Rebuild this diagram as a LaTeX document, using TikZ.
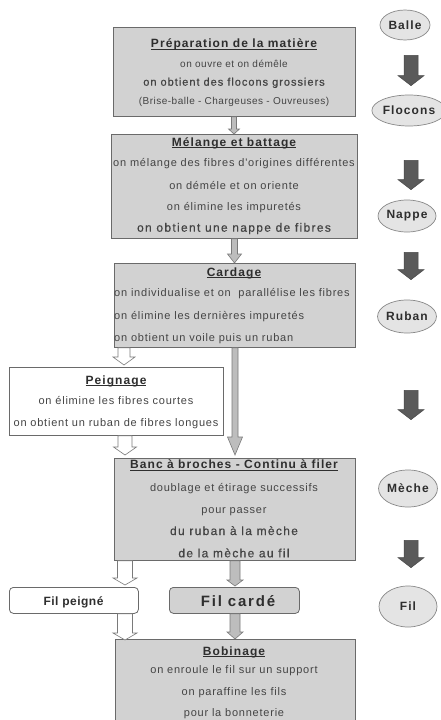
\documentclass[tikz,border=0pt]{standalone}
\usepackage{fontspec}
\setmainfont{Liberation Sans}
\newfontfamily\bodyf[LetterSpace=7]{Liberation Sans}
\newfontfamily\smallf[LetterSpace=5]{Liberation Sans}
\newfontfamily\titlef[LetterSpace=9]{Liberation Sans}
\newfontfamily\widef[LetterSpace=11,FakeBold=0.5]{Liberation Sans}
\usetikzlibrary{calc,shapes.geometric}
\definecolor{boxfill}{HTML}{D2D2D2}
\definecolor{boxline}{HTML}{6A6A6A}
\definecolor{txtcol}{HTML}{444444}
\definecolor{ttlcol}{HTML}{2E2E2E}
\definecolor{ellfill}{HTML}{E4E4E4}
\definecolor{ellline}{HTML}{888888}
\definecolor{darkarr}{HTML}{5A5A5A}
\definecolor{grayarr}{HTML}{BDBDBD}
\definecolor{arrline}{HTML}{7A7A7A}
\newcommand\ulin[1]{\setbox0=\hbox{#1}\rlap{\raisebox{-2.4pt}{\rule{\wd0}{1.1pt}}}\box0}
\newcommand\blk[6]{%
  \path[#1] let \p1=#2, \p2=#3 in
  (\x1-#4pt,\y1) -- (\x1-#4pt,\y2+#6pt) -- (\x1-#5pt,\y2+#6pt) -- (\x1,\y2)
  -- (\x1+#5pt,\y2+#6pt) -- (\x1+#4pt,\y2+#6pt) -- (\x1+#4pt,\y1) -- cycle;}
\begin{document}
\begin{tikzpicture}[x=1pt,y=-1pt,
  mainbox/.style={draw=boxline,fill=boxfill,line width=0.8pt,anchor=north west,inner sep=0},
  whitebox/.style={draw=boxline,fill=white,line width=0.8pt,anchor=north west,inner sep=0},
  ell/.style={ellipse,draw=ellline,fill=ellfill,line width=0.7pt,inner sep=0,
    text=ttlcol,font=\titlef\bfseries\fontsize{12}{14}\selectfont},
  ttl/.style={anchor=base,inner sep=0,text=ttlcol,font=\titlef\bfseries\fontsize{12}{14}\selectfont},
  bodytxt/.style={anchor=base,inner sep=0,text=txtcol,font=\bodyf\fontsize{11}{13}\selectfont},
  smalltxt/.style={anchor=base,inner sep=0,text=txtcol,font=\smallf\fontsize{10}{12}\selectfont},
  widetxt/.style={anchor=base,inner sep=0,text=txtcol,font=\widef\fontsize{12}{14}\selectfont},
  darkarrow/.style={fill=darkarr,draw=darkarr!80!black,line width=0.5pt},
  grayarrow/.style={fill=grayarr,draw=arrline,line width=0.6pt},
  hollow/.style={fill=white,draw=arrline,line width=0.6pt}]
\useasboundingbox (0,0) rectangle (441,720);
\fill[white] (0,0) rectangle (441,720);

% main boxes
\node[mainbox,minimum width=242pt,minimum height=89pt] (b1) at (113,27) {};
\node[mainbox,minimum width=246pt,minimum height=104pt] (b2) at (111,134) {};
\node[mainbox,minimum width=241pt,minimum height=84pt] (b3) at (114,263) {};
\node[whitebox,minimum width=214pt,minimum height=68pt] (peig) at (9,367) {};
\node[mainbox,minimum width=241pt,minimum height=102pt] (banc) at (114,458) {};
\node[whitebox,rounded corners=4pt,minimum width=129pt,minimum height=26pt] (filp) at (9,587) {};
\node[mainbox,rounded corners=4pt,minimum width=130pt,minimum height=26pt] (filc) at (169,587) {};
\node[mainbox,minimum width=240pt,minimum height=95pt] (bob) at (115,639) {};

% texts box 1
\node[ttl] (t1) at (234,47.7) {\ulin{Préparation de la matière}};
\node[smalltxt] (t1a) at (234,67.7) {on ouvre et on démêle};
\node[widetxt,font=\widef\fontsize{11}{13}\selectfont\addfontfeature{LetterSpace=9}] (t1b) at (234,85.7) {on obtient des flocons grossiers};
\node[smalltxt] (t1c) at (234,104) {(Brise-balle - Chargeuses - Ouvreuses)};
% box 2
\node[ttl] (t2) at (234,146) {\ulin{Mélange et battage}};
\node[bodytxt] (t2a) at (234,166.7) {on mélange des fibres d'origines différentes};
\node[bodytxt] (t2b) at (234,189) {on déméle et on oriente};
\node[bodytxt] (t2c) at (234,210.7) {on élimine les impuretés};
\node[widetxt] (t2d) at (234,231.7) {on obtient une nappe de fibres};
% box 3
\node[ttl] (t3) at (234,276) {\ulin{Cardage}};
\node[bodytxt,anchor=base west] (t3a) at (114,296.7) {on individualise et on\ \ parallélise les fibres};
\node[bodytxt,anchor=base west] (t3b) at (114,319) {on élimine les dernières impuretés};
\node[bodytxt,anchor=base west] (t3c) at (114,341) {on obtient un voile puis un ruban};
% peignage
\node[ttl] (t4) at (116,384) {\ulin{Peignage}};
\node[bodytxt] (t4a) at (116,404) {on élimine les fibres courtes};
\node[bodytxt] (t4b) at (116,426.7) {on obtient un ruban de fibres longues};
% banc
\node[ttl] (t5) at (234,468.3) {\ulin{Banc à broches - Continu à filer}};
\node[bodytxt] (t5a) at (234,491) {doublage et étirage successifs};
\node[bodytxt] (t5b) at (234,513.3) {pour passer};
\node[widetxt] (t5c) at (234,535) {du ruban à la mèche};
\node[widetxt] (t5d) at (234,557.3) {de la mèche au fil};
% fils
\node[ttl,font=\titlef\bfseries\fontsize{12}{14}\selectfont\addfontfeature{LetterSpace=4}] (t6) at (73.5,605) {Fil peigné};
\node[ttl,font=\titlef\bfseries\fontsize{15}{17}\selectfont\addfontfeature{LetterSpace=12}] (t7) at (238,606) {Fil cardé};
% bobinage
\node[ttl] (t8) at (234,655) {\ulin{Bobinage}};
\node[bodytxt] (t8a) at (234,673.3) {on enroule le fil sur un support};
\node[bodytxt] (t8b) at (234,695.7) {on paraffine les fils};
\node[bodytxt] (t8c) at (234,716.7) {pour la bonneterie};

% connectors between boxes
\blk{grayarrow}{($(b1.south west)+(121,0)$)}{(b2.north)}{2.5}{5.5}{5}
\blk{grayarrow}{($(b2.south west)+(123.5,0)$)}{(b3.north)}{3}{7}{9}
\blk{grayarrow}{($(b3.south west)+(121,0)$)}{($(banc.north)+(0,-3)$)}{3}{7.5}{18}
\blk{hollow}{($(b3.south west)+(10,0)$)}{($(peig.north)+(0,-2)$)}{6}{11}{8}
\blk{hollow}{($(peig.south west)+(116,0)$)}{($(banc.north)+(0,-3)$)}{7}{11.5}{8}
\blk{hollow}{($(banc.south west)+(11,0)$)}{($(filp.north)+(0,-2)$)}{7.5}{12}{7}
\blk{hollow}{($(filp.south west)+(116,0)$)}{($(bob.north)+(0,1)$)}{7.5}{12}{7}
\blk{grayarrow}{($(banc.south west)+(121,0)$)}{($(filc.north)+(0,-1)$)}{5}{8}{6}
\blk{grayarrow}{($(filc.south west)+(66,0)$)}{(bob.north)}{5}{8}{7}

% right column
\node[ell,minimum width=50pt,minimum height=30pt] (balle) at (405,25) {Balle};
\node[ell,minimum width=60pt,minimum height=31pt] (flocons) at (409,110.5) {Flocons};
\node[ell,minimum width=56pt,minimum height=32pt] (nappe) at (407,216) {Nappe};
\node[ell,minimum width=56pt,minimum height=33pt] (ruban) at (407,316.5) {Ruban};
\node[ell,minimum width=58pt,minimum height=37pt] (meche) at (408,488.5) {Mèche};
\node[ell,minimum width=58pt,minimum height=41pt] (fil) at (408,606.5) {Fil};

\blk{darkarrow}{($(balle.south)+(6,15)$)}{($(flocons.north)+(2,-9)$)}{7}{13}{10}
\blk{darkarrow}{($(flocons.south)+(2,34)$)}{($(nappe.north)+(4,-10)$)}{7}{13}{10}
\blk{darkarrow}{($(nappe.south)+(4,20)$)}{($(ruban.north)+(4,-20)$)}{7}{13}{10}
\blk{darkarrow}{($(ruban.south)+(4,57)$)}{($(meche.north)+(3,-50)$)}{7}{13}{10}
\blk{darkarrow}{($(meche.south)+(3,33)$)}{($(fil.north)+(3,-18)$)}{7}{13}{10}
\end{tikzpicture}
\end{document}
